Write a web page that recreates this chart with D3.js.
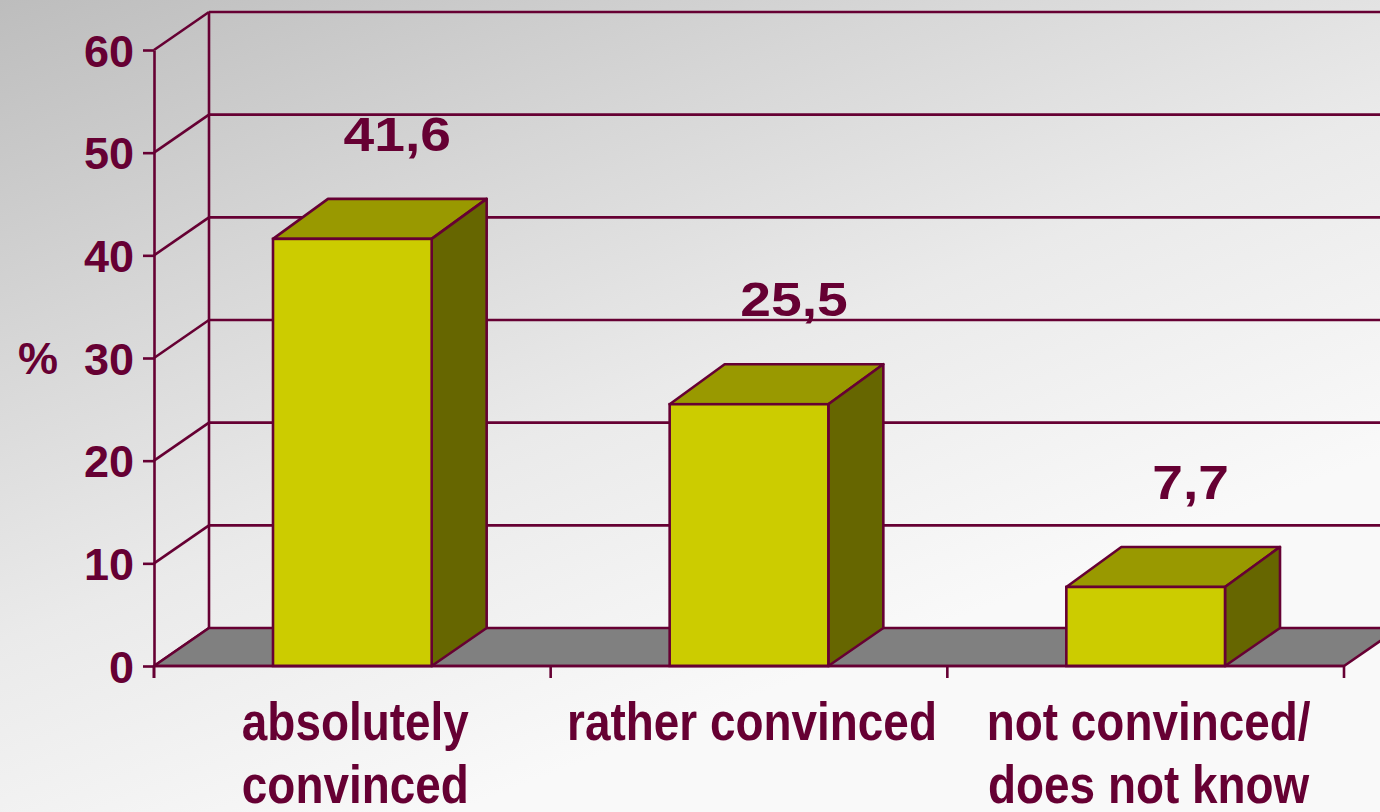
<!DOCTYPE html>
<html>
<head>
<meta charset="utf-8">
<script src="https://cdn.jsdelivr.net/npm/d3@7"></script>
<style>
  html, body { margin: 0; padding: 0; background: #fff; }
  svg { display: block; }
  text { font-family: "Liberation Sans", Arial, Helvetica, sans-serif; font-weight: bold; fill: #660033; }
</style>
</head>
<body>
<svg id="chart" width="1380" height="812"></svg>
<script>
// ---- data ----
const categories = ["absolutely convinced", "rather convinced", "not convinced/ does not know"];
const categoryLines = [["absolutely", "convinced"], ["rather convinced"], ["not convinced/", "does not know"]];
const values = [41.6, 25.5, 7.7];
const valueLabels = ["41,6", "25,5", "7,7"];
const yTicks = [0, 10, 20, 30, 40, 50, 60];
const yAxisLabel = "%";

// ---- layout ----
const W = 1380, H = 812;
const maroon = "#660033";
const wallDx = 55, wallDy = -38;
const barDx = 55, barDy = -40;
const lw = 2.6;

const svg = d3.select("#chart");
const defs = svg.append("defs");
const grad = defs.append("linearGradient").attr("id", "bg")
  .attr("gradientUnits", "userSpaceOnUse")
  .attr("x1", 0).attr("y1", 0).attr("x2", 330).attr("y2", 860);
grad.append("stop").attr("offset", "0").attr("stop-color", "#bdbdbd");
grad.append("stop").attr("offset", "0.35").attr("stop-color", "#d6d6d6");
grad.append("stop").attr("offset", "0.65").attr("stop-color", "#eaeaea");
grad.append("stop").attr("offset", "1").attr("stop-color", "#f9f9f9");
svg.append("rect").attr("width", W).attr("height", H).attr("fill", "url(#bg)");

const y = d3.scaleLinear().domain([0, 60]).range([666, 50]);
const x = d3.scaleBand().domain(categories).range([154, 1344]).paddingInner(0.6).paddingOuter(0.3);
const x0 = 154, x1 = 1344, y0 = y(0);

// back wall gridlines
svg.append("g").selectAll("line").data(yTicks.filter(d => d > 0)).join("line")
  .attr("x1", x0 + wallDx).attr("x2", W + 40)
  .attr("y1", d => y(d) + wallDy).attr("y2", d => y(d) + wallDy)
  .attr("stroke", maroon).attr("stroke-width", lw);
// side wall diagonals
svg.append("g").selectAll("line").data(yTicks).join("line")
  .attr("x1", x0).attr("y1", d => y(d))
  .attr("x2", x0 + wallDx).attr("y2", d => y(d) + wallDy)
  .attr("stroke", maroon).attr("stroke-width", lw);
// back wall vertical
svg.append("line").attr("x1", x0 + wallDx).attr("x2", x0 + wallDx)
  .attr("y1", y(60) + wallDy).attr("y2", y0 + wallDy)
  .attr("stroke", maroon).attr("stroke-width", lw);

// floor
svg.append("polygon")
  .attr("points", [[x0, y0], [x1, y0], [x1 + wallDx, y0 + wallDy], [x0 + wallDx, y0 + wallDy]].map(p => p.join(",")).join(" "))
  .attr("fill", "#808080").attr("stroke", maroon).attr("stroke-width", lw).attr("stroke-linejoin", "round");
svg.append("line").attr("x1", x1 + wallDx).attr("x2", W + 40)
  .attr("y1", y0 + wallDy).attr("y2", y0 + wallDy).attr("stroke", maroon).attr("stroke-width", lw);

// bars
const bars = svg.append("g").selectAll("g").data(values).join("g");
bars.each(function (v, i) {
  const g = d3.select(this);
  const bx0 = x(categories[i]), bx1 = bx0 + x.bandwidth();
  const yv = y(v);
  const poly = pts => pts.map(p => p.join(",")).join(" ");
  g.append("polygon")
    .attr("points", poly([[bx0, yv], [bx0 + barDx, yv + barDy], [bx1 + barDx, yv + barDy], [bx1, yv]]))
    .attr("fill", "#999900").attr("stroke", maroon).attr("stroke-width", lw).attr("stroke-linejoin", "round");
  g.append("polygon")
    .attr("points", poly([[bx1, yv], [bx1 + barDx, yv + barDy], [bx1 + barDx, y0 + wallDy], [bx1, y0]]))
    .attr("fill", "#666600").attr("stroke", maroon).attr("stroke-width", lw).attr("stroke-linejoin", "round");
  g.append("rect")
    .attr("x", bx0).attr("y", yv).attr("width", bx1 - bx0).attr("height", y0 - yv)
    .attr("fill", "#cccc00").attr("stroke", maroon).attr("stroke-width", lw);
});

// front y axis
const yAxis = d3.axisLeft(y).tickValues(yTicks).tickSize(11).tickSizeOuter(0).tickPadding(9);
const ya = svg.append("g").attr("transform", `translate(${x0},0)`).call(yAxis);
ya.select(".domain").attr("stroke", maroon).attr("stroke-width", lw);
ya.selectAll(".tick line").attr("stroke", maroon).attr("stroke-width", lw);
ya.selectAll(".tick text").attr("font-size", 45).attr("dy", "0.36em")
  .style("font-family", '"Liberation Sans", Arial, sans-serif').style("font-weight", "bold").attr("fill", maroon);
svg.append("line").attr("x1", x0).attr("x2", x0).attr("y1", y0).attr("y2", y0 + 12)
  .attr("stroke", maroon).attr("stroke-width", lw);

// x axis ticks at band boundaries
const boundaries = d3.range(categories.length + 1).map(i => x0 + i * x.step());
svg.append("g").selectAll("line").data(boundaries).join("line")
  .attr("x1", d => d).attr("x2", d => d).attr("y1", y0).attr("y2", y0 + 12)
  .attr("stroke", maroon).attr("stroke-width", lw);
svg.append("line").attr("x1", x0).attr("x2", x1).attr("y1", y0).attr("y2", y0)
  .attr("stroke", maroon).attr("stroke-width", lw);

// y axis label
svg.append("text").attr("x", 38).attr("y", y(30) + 16).attr("text-anchor", "middle")
  .attr("font-size", 45).text(yAxisLabel);

// value labels
svg.append("g").selectAll("text").data(values).join("text")
  .attr("text-anchor", "middle").attr("font-size", 48)
  .attr("transform", (v, i) => `translate(${x(categories[i]) + x.bandwidth() / 2 + 45},${y(v) - 105 + 17}) scale(1.15,1)`)
  .text((v, i) => valueLabels[i]);

// category labels
const cl = svg.append("g").selectAll("g").data(categories).join("g")
  .attr("transform", d => `translate(${x(d) + x.bandwidth() / 2 + 3},740) scale(0.85,1)`);
cl.each(function (d, i) {
  d3.select(this).selectAll("text").data(categoryLines[i]).join("text")
    .attr("text-anchor", "middle").attr("font-size", 54)
    .attr("y", (t, j) => j * 63).text(t => t);
});
</script>
</body>
</html>
